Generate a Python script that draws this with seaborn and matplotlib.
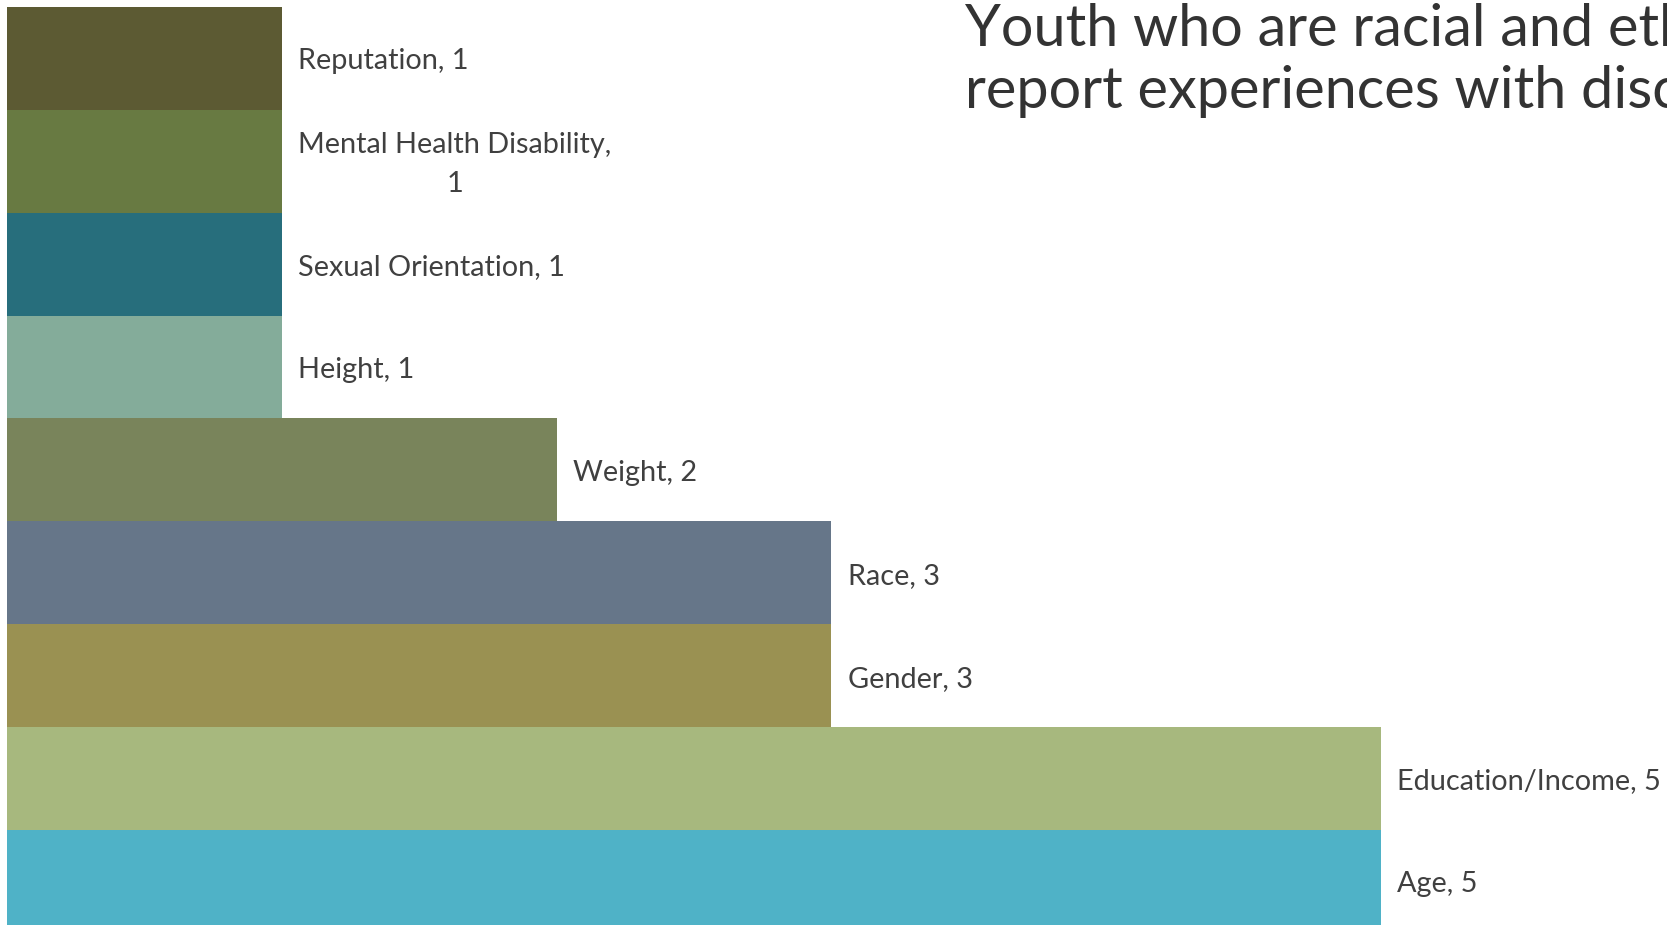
import matplotlib
matplotlib.use("Agg")
import matplotlib.pyplot as plt
import seaborn as sns
import pandas as pd

categories = ["Reputation", "Mental Health Disability", "Sexual Orientation", "Height",
              "Weight", "Race", "Gender", "Education/Income", "Age"]
values = [1, 1, 1, 1, 2, 3, 3, 5, 5]
label_texts = ["Reputation, 1", "Mental Health Disability,\n1", "Sexual Orientation, 1",
               "Height, 1", "Weight, 2", "Race, 3", "Gender, 3", "Education/Income, 5", "Age, 5"]
colors = ["#5c5a33", "#687a42", "#276e7c", "#84ac9a", "#79845b",
          "#667689", "#9a9152", "#a7b87e", "#4fb2c7"]
title_text = "Youth who are racial and ethnic minorities\nreport experiences with discrimination"

sns.set_theme(style="white")
plt.rcParams['font.family'] = ['Lato', 'DejaVu Sans']

df = pd.DataFrame({"category": categories, "value": values})

fig = plt.figure(figsize=(16.67, 9.25), dpi=100)
ax = fig.add_axes([0, 0, 1, 1])
sns.barplot(data=df, y="category", x="value", hue="category", palette=colors,
            order=categories, hue_order=categories, orient="h", width=1.0,
            saturation=1, legend=False, ax=ax, linewidth=0)

# pixel geometry: x0=7px, 274.75 px per unit; top=7px, 102.86 px per bar
W, H = 1667, 925
unit = 274.75
x0 = 7
ax.set_xlim(-x0 / unit, (W - x0) / unit)
step = 102.86
top = -0.5 - 7 / step
ax.set_ylim(top + H / step, top)
ax.axis("off")

for i, (v, t) in enumerate(zip(values, label_texts)):
    ax.annotate(t, xy=(v, i), xytext=(12.0, -2.2), textcoords="offset points",
                ha="left", va="center", multialignment="center",
                fontsize=20.8, color="#404040", linespacing=1.6)

fig.text(965 / W, 1 - 3 / H, title_text, ha="left", va="top", fontsize=41.5,
         color="#333333", fontweight="normal", linespacing=1.22)

fig.savefig("out.png", dpi=100)
